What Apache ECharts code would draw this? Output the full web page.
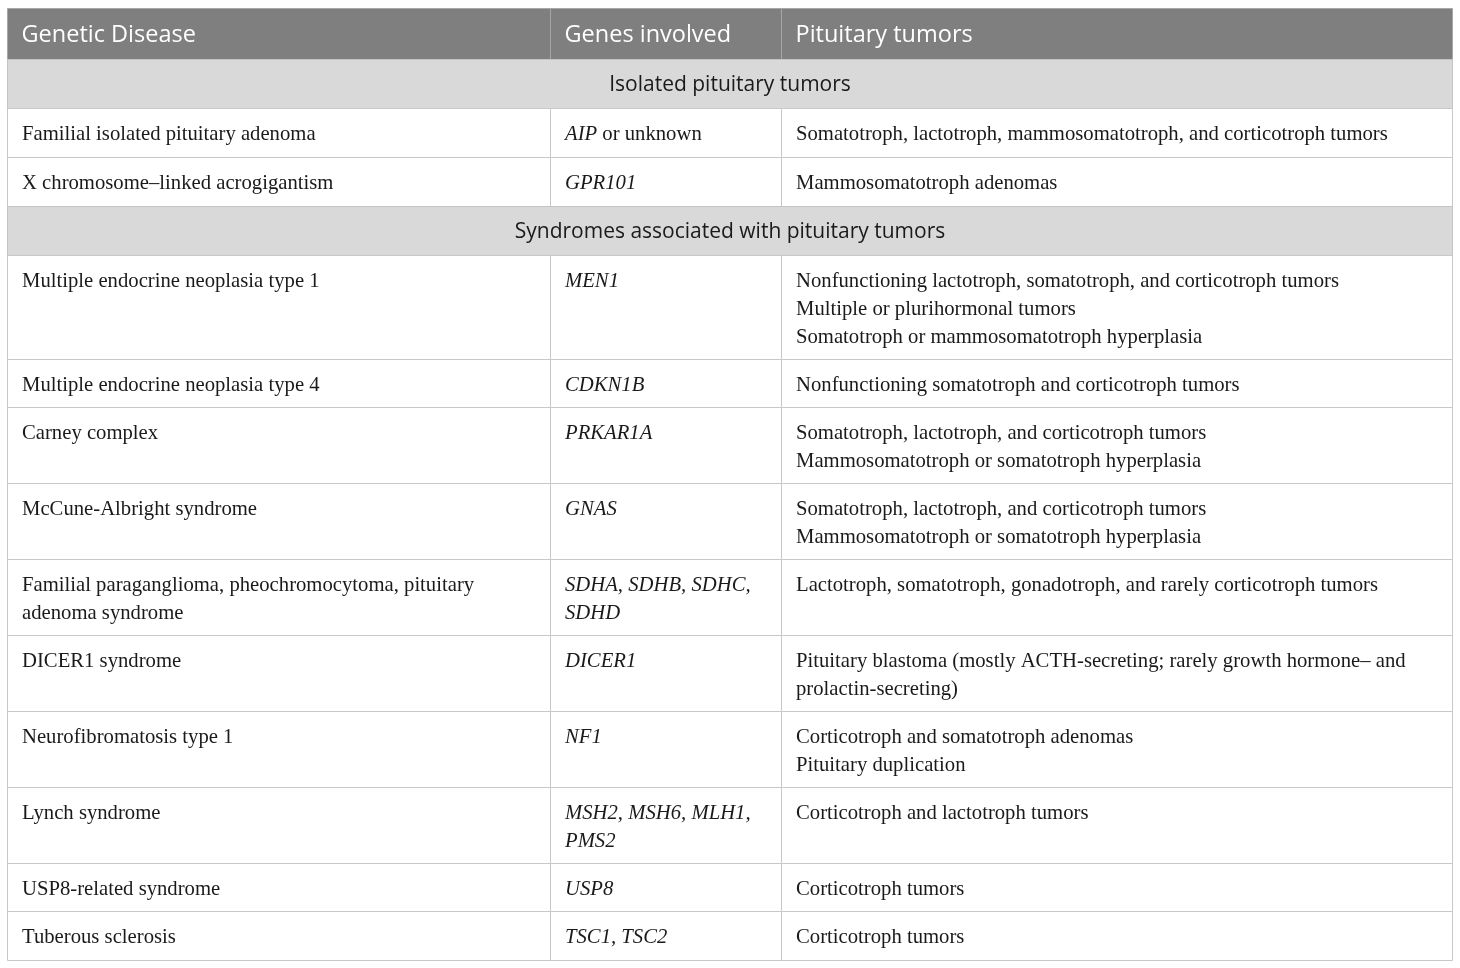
<!DOCTYPE html>
<html><head><meta charset="utf-8">
<script src="https://cdn.jsdelivr.net/npm/echarts@6/dist/echarts.min.js"></script>
<style>html,body{margin:0;padding:0;background:#fff}#c{width:1460px;height:968px}</style>
</head><body><div id="c"></div>
<script>
// ---- data ----
const headers = ['Genetic Disease', 'Genes involved', 'Pituitary tumors'];
const sections = ['Isolated pituitary tumors', 'Syndromes associated with pituitary tumors'];
const sectionBefore = [0, 2]; // section i appears before disease row index
const diseases = [
  'Familial isolated pituitary adenoma',
  'X chromosome\u2013linked acrogigantism',
  'Multiple endocrine neoplasia type 1',
  'Multiple endocrine neoplasia type 4',
  'Carney complex',
  'McCune-Albright syndrome',
  'Familial paraganglioma, pheochromocytoma, pituitary\nadenoma syndrome',
  'DICER1 syndrome',
  'Neurofibromatosis type 1',
  'Lynch syndrome',
  'USP8-related syndrome',
  'Tuberous sclerosis'
];
const genes = [
  '{i|AIP} or unknown',
  '{i|GPR101}',
  '{i|MEN1}',
  '{i|CDKN1B}',
  '{i|PRKAR1A}',
  '{i|GNAS}',
  '{i|SDHA, SDHB, SDHC,}\n{i|SDHD}',
  '{i|DICER1}',
  '{i|NF1}',
  '{i|MSH2, MSH6, MLH1,}\n{i|PMS2}',
  '{i|USP8}',
  '{i|TSC1, TSC2}'
];
const tumors = [
  'Somatotroph, lactotroph, mammosomatotroph, and corticotroph tumors',
  'Mammosomatotroph adenomas',
  'Nonfunctioning lactotroph, somatotroph, and corticotroph tumors\nMultiple or plurihormonal tumors\nSomatotroph or mammosomatotroph hyperplasia',
  'Nonfunctioning somatotroph and corticotroph tumors',
  'Somatotroph, lactotroph, and corticotroph tumors\nMammosomatotroph or somatotroph hyperplasia',
  'Somatotroph, lactotroph, and corticotroph tumors\nMammosomatotroph or somatotroph hyperplasia',
  'Lactotroph, somatotroph, gonadotroph, and rarely corticotroph tumors',
  'Pituitary blastoma (mostly ACTH-secreting; rarely growth hormone\u2013 and\nprolactin-secreting)',
  'Corticotroph and somatotroph adenomas\nPituitary duplication',
  'Corticotroph and lactotroph tumors',
  'Corticotroph tumors',
  'Corticotroph tumors'
];

// ---- layout (table geometry in axis units) ----
const colEdges = [7.5, 550.5, 781.5, 1452.5];
const rowEdges = [8.5, 59.5, 108.5, 157.5, 206.5, 255.5, 359.5, 407.5, 483.5, 559.5, 635.5, 711.5, 787.5, 863.5, 911.5, 960.5];

// build cells: [col, tableRow, kind, text]
const cells = [];
let tr = 0;
headers.forEach((h, c) => cells.push({value: [c, tr, 'h'], text: h}));
tr++;
diseases.forEach((d, i) => {
  const s = sectionBefore.indexOf(i);
  if (s >= 0) { cells.push({value: [0, tr, 's'], text: sections[s]}); tr++; }
  cells.push({value: [0, tr, 'b'], text: d});
  cells.push({value: [1, tr, 'b'], text: genes[i]});
  cells.push({value: [2, tr, 'b'], text: tumors[i]});
  tr++;
});

const chart = echarts.init(document.getElementById('c'), null, {renderer: 'canvas'});
const serif = '"Liberation Serif", "DejaVu Serif", serif';
const sans = '"Open Sans", "Noto Sans", sans-serif';
const bodySize = 20.7;

chart.setOption({
  animation: false,
  grid: {left: 0, right: 0, top: 0, bottom: 0},
  xAxis: {type: 'value', min: 0, max: 1460, show: false},
  yAxis: {type: 'value', min: 0, max: 968, inverse: true, show: false},
  series: [{
    type: 'custom',
    coordinateSystem: 'cartesian2d',
    data: cells.map(c => ({value: c.value, name: c.text})),
    renderItem: function (params, api) {
      const item = cells[params.dataIndex];
      const col = item.value[0], row = item.value[1], kind = item.value[2];
      const x0 = kind === 's' ? colEdges[0] : colEdges[col];
      const x1 = kind === 's' ? colEdges[3] : colEdges[col + 1];
      const p0 = api.coord([x0, rowEdges[row]]);
      const p1 = api.coord([x1, rowEdges[row + 1]]);
      const w = p1[0] - p0[0], h = p1[1] - p0[1];
      let fill = '#ffffff', stroke = '#c8c8c8', txt;
      if (kind === 'h') {
        fill = '#7f7f7f'; stroke = '#a6a6a6';
        txt = {type: 'text', style: {text: item.text, x: p0[0] + 14, y: p0[1] + h / 2 + 1.5,
          fill: '#ffffff', font: '23.5px ' + sans, verticalAlign: 'middle', align: 'left'}};
      } else if (kind === 's') {
        fill = '#d9d9d9'; stroke = '#c4c4c4';
        txt = {type: 'text', style: {text: item.text, x: p0[0] + w / 2, y: p0[1] + h / 2 + 1,
          fill: '#1a1a1a', font: '21px ' + sans, verticalAlign: 'middle', align: 'center'}};
      } else {
        txt = {type: 'text', style: {text: item.text, x: p0[0] + 14.5, y: p0[1] + 12,
          fill: '#1a1a1a', font: bodySize + 'px ' + serif, lineHeight: 28, verticalAlign: 'top', align: 'left',
          rich: {i: {fontStyle: 'italic', fontFamily: serif, fontSize: bodySize, lineHeight: 28, fill: '#1a1a1a'}}}};
      }
      return {type: 'group', children: [
        {type: 'rect', shape: {x: p0[0], y: p0[1], width: w, height: h},
          style: {fill: fill, stroke: stroke, lineWidth: 1}},
        txt
      ]};
    }
  }]
});
</script></body></html>
